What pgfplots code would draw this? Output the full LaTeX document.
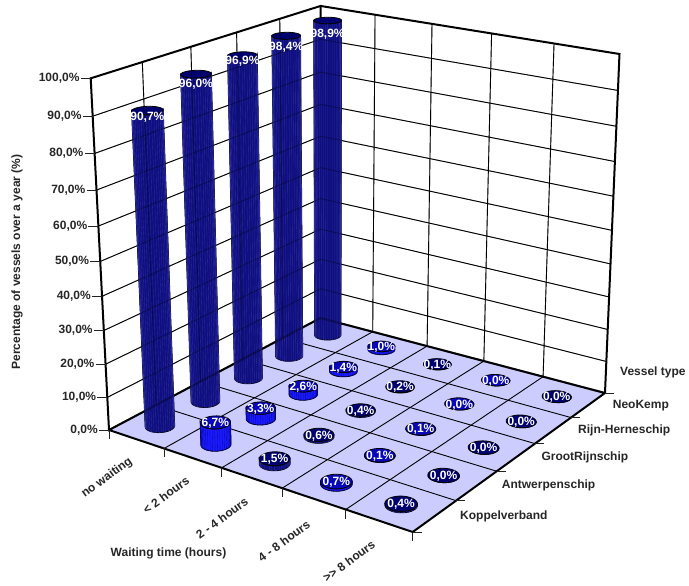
\documentclass[border=0pt]{standalone}
\usepackage{fontspec}
\setmainfont{Liberation Sans}
\usepackage{pgfplots}
\usepackage{pgfplotstable}
\pgfplotsset{compat=1.18}

% Perspective view of the box: u along waiting time, v along vessel type, w up (all 0..1)
\pgfmathdeclarefunction{prjd}{3}{\pgfmathparse{1-0.11565*#1+0.14566*#2-0.08*#3}}
\pgfmathdeclarefunction{prjx}{3}{\pgfmathparse{(109+255.97*#1+258.18*#2+#3*(-25.56-9.06*#1*#2))/prjd(#1,#2,#3)}}
\pgfmathdeclarefunction{prjy}{3}{\pgfmathparse{(430+40.47*#1-65.68*#2+#3*(-357.96+4.47*#1*#2))/prjd(#1,#2,#3)}}
\pgfmathdeclarefunction{cellc}{1}{\pgfmathparse{(#1+0.5)/5}}
% outline of a cylinder side: front arc at the bottom, then back along the top
\pgfmathdeclarefunction{sideang}{1}{\pgfmathparse{ifthenelse(#1<15.5,-139+12*#1,41-12*(#1-16))}}
\pgfmathdeclarefunction{sidew}{2}{\pgfmathparse{ifthenelse(#1<15.5,0,#2)}}
% facet lines on a cylinder side, as one zigzag
\pgfmathdeclarefunction{facang}{1}{\pgfmathparse{-139+9.47*floor((#1+0.01)/2)}}
\pgfmathdeclarefunction{facw}{2}{\pgfmathparse{ifthenelse(mod(round(#1),4)==1||mod(round(#1),4)==2,#2,0)}}

\definecolor{floorc}{HTML}{CCCCFF}
\definecolor{navyside}{HTML}{0E0E7E}
\definecolor{navycap}{HTML}{00006E}
\definecolor{navyfacet}{HTML}{2C2C9C}
\definecolor{blueside}{HTML}{1A1AFF}
\definecolor{bluecap}{HTML}{0808B8}
\definecolor{bluefacet}{HTML}{0808A0}
\definecolor{tickc}{HTML}{222222}

\newcommand\lab{\fontsize{12}{14}\selectfont\bfseries}

% share of vessels per waiting time i and vessel type j, drawn back to front;
% d is how far the value label sits below the top of its cylinder
\pgfplotstableread{
i j v d
0 4 98.9 14
1 4 1.0 1
2 4 0.1 1
3 4 0.0 1
4 4 0.0 1
0 3 98.4 12
1 3 1.4 1
2 3 0.2 1
3 3 0.0 1
4 3 0.0 1
0 2 96.9 6
1 2 2.6 1
2 2 0.4 1
3 2 0.1 1
4 2 0.0 1
0 1 96.0 10.5
1 1 3.3 1
2 1 0.6 1
3 1 0.1 1
4 1 0.0 1
0 0 90.7 6.5
1 0 6.7 1
2 0 1.5 1
3 0 0.7 1
4 0 0.4 1
}\bars

% i, j, value, side colour, cap colour, facet colour
\newcommand\cyl[6]{%
  \addplot[fill=#4,draw=black,line width=0.8pt,mark=none,domain=0:31,samples=32]
    ({prjx(cellc(#1)+0.041*cos(sideang(x)),cellc(#2)+0.041*sin(sideang(x)),sidew(x,#3/100))},
     {prjy(cellc(#1)+0.041*cos(sideang(x)),cellc(#2)+0.041*sin(sideang(x)),sidew(x,#3/100))}) -- cycle;
  \ifdim#3pt>0.3pt
  \addplot[draw=#6,line width=0.35pt,mark=none,domain=0:39,samples=40]
    ({prjx(cellc(#1)+0.041*cos(facang(x)),cellc(#2)+0.041*sin(facang(x)),facw(x,#3/100))},
     {prjy(cellc(#1)+0.041*cos(facang(x)),cellc(#2)+0.041*sin(facang(x)),facw(x,#3/100))});
  \fi
  \addplot[fill=#5,draw=black,line width=0.8pt,mark=none,domain=0:360,samples=33]
    ({prjx(cellc(#1)+0.041*cos(x),cellc(#2)+0.041*sin(x),#3/100)},
     {prjy(cellc(#1)+0.041*cos(x),cellc(#2)+0.041*sin(x),#3/100)}) -- cycle;
}

% gridlines on the two walls
\newcommand\wallgrid[1]{%
  \pgfplotsinvokeforeach{0.1,0.2,0.3,0.4,0.5,0.6,0.7,0.8,0.9}{%
    \addplot[#1,mark=none,domain=0:1,samples=2] ({prjx(0,x,##1)},{prjy(0,x,##1)});
    \addplot[#1,mark=none,domain=0:1,samples=2] ({prjx(x,1,##1)},{prjy(x,1,##1)});
  }%
  \pgfplotsinvokeforeach{0.2,0.4,0.6,0.8}{%
    \addplot[#1,mark=none,domain=0:1,samples=2] ({prjx(0,##1,x)},{prjy(0,##1,x)});
    \addplot[#1,mark=none,domain=0:1,samples=2] ({prjx(##1,1,x)},{prjy(##1,1,x)});
  }%
}

\begin{document}
\begin{tikzpicture}
\useasboundingbox (0,0) rectangle (689pt,586pt);
\begin{axis}[
  at={(0,0)},anchor=south west,
  scale only axis,width=689pt,height=586pt,
  xmin=0,xmax=689,ymin=0,ymax=586,y dir=reverse,
  enlargelimits=false,hide axis,clip=false,
  /pgf/number format/.cd,fixed,fixed zerofill,precision=1,use comma,assume math mode=true,
]
% floor
\addplot[fill=floorc,draw=none,mark=none]
  table[row sep=crcr,x expr={prjx(\thisrow{u},\thisrow{v},0)},y expr={prjy(\thisrow{u},\thisrow{v},0)}]
  {u v\\0 0\\1 0\\1 1\\0 1\\} -- cycle;
\pgfplotsinvokeforeach{0.2,0.4,0.6,0.8}{%
  \addplot[black,line width=0.9pt,mark=none,domain=0:1,samples=2] ({prjx(x,#1,0)},{prjy(x,#1,0)});
  \addplot[black,line width=0.9pt,mark=none,domain=0:1,samples=2] ({prjx(#1,x,0)},{prjy(#1,x,0)});
}
\wallgrid{black,line width=0.9pt}
% box edges
\addplot[black,line width=2pt,mark=none,line join=miter]
  table[row sep=crcr,x expr={prjx(\thisrow{u},\thisrow{v},\thisrow{w})},y expr={prjy(\thisrow{u},\thisrow{v},\thisrow{w})}]
  {u v w\\0 0 0\\1 0 0\\1 1 0\\1 1 1\\0 1 1\\0 0 1\\0 0 0\\0 1 0\\1 1 0\\};
\addplot[black,line width=2pt,mark=none]
  table[row sep=crcr,x expr={prjx(\thisrow{u},\thisrow{v},\thisrow{w})},y expr={prjy(\thisrow{u},\thisrow{v},\thisrow{w})}]
  {u v w\\0 1 1\\0 1 0\\};
% ticks
\pgfplotsinvokeforeach{0,0.2,0.4,0.6,0.8,1}{%
  \addplot[tickc,line width=0.8pt,mark=none,domain=0:1,samples=2] ({prjx(#1,0,0)},{prjy(#1,0,0)+9*x});
  \addplot[tickc,line width=0.8pt,mark=none,domain=0:1,samples=2] ({prjx(1,#1,0)+9*x},{prjy(1,#1,0)});
}
\pgfplotsinvokeforeach{0,0.1,0.2,0.3,0.4,0.5,0.6,0.7,0.8,0.9,1}{%
  \addplot[tickc,line width=0.8pt,mark=none,domain=0:1,samples=2] ({prjx(0,0,#1)-10*x},{prjy(0,0,#1)});
}
% cylinders, alternating colour by waiting time
\pgfplotsforeachungrouped \r in {0,...,24}{%
  \pgfplotstablegetelem{\r}{i}\of\bars\let\ci\pgfplotsretval
  \pgfplotstablegetelem{\r}{j}\of\bars\let\cj\pgfplotsretval
  \pgfplotstablegetelem{\r}{v}\of\bars\let\cv\pgfplotsretval
  \ifodd\ci\relax
    \edef\tmp{\noexpand\cyl{\ci}{\cj}{\cv}{blueside}{bluecap}{bluefacet}}%
  \else
    \edef\tmp{\noexpand\cyl{\ci}{\cj}{\cv}{navyside}{navycap}{navyfacet}}%
  \fi
  \tmp
}
% the wall lines show faintly through the cylinders
\wallgrid{black,line width=0.9pt,opacity=0.35}
\addplot[black,line width=2pt,mark=none,opacity=0.35]
  table[row sep=crcr,x expr={prjx(\thisrow{u},\thisrow{v},0)},y expr={prjy(\thisrow{u},\thisrow{v},0)}]
  {u v\\0 0\\0 1\\1 1\\};
% value labels
\addplot[draw=none,mark=none,point meta=\thisrow{v},
  nodes near coords={\pgfmathprintnumber{\pgfplotspointmeta}\%},
  every node near coord/.append style={anchor=center,text=white,inner sep=0pt,font=\lab}]
  table[x expr={prjx(cellc(\thisrow{i}),cellc(\thisrow{j}),\thisrow{v}/100)},
        y expr={prjy(cellc(\thisrow{i}),cellc(\thisrow{j}),\thisrow{v}/100)+\thisrow{d}}] {\bars};
% percentage labels on the vertical axis
\addplot[draw=none,mark=none,point meta=\thisrow{p},
  nodes near coords={\pgfmathprintnumber{\pgfplotspointmeta}\%},
  every node near coord/.append style={anchor=east,text=black!85,inner sep=0pt,font=\lab}]
  table[row sep=crcr,x expr={prjx(0,0,\thisrow{p}/100)-11},y expr={prjy(0,0,\thisrow{p}/100)}]
  {p\\0\\10\\20\\30\\40\\50\\60\\70\\80\\90\\100\\};
% axis titles and category names
\node[font=\lab,text=black!85,inner sep=0,rotate=90] at (axis cs:17,262) {Percentage of vessels over a year (\%)};
\node[font=\lab,text=black!85,inner sep=0] at (axis cs:168.5,553.5) {Waiting time (hours)};
\node[font=\lab,text=black!85,inner sep=0,anchor=west] at (axis cs:620,372) {Vessel type};
\node[font=\lab,text=black!85,inner sep=0,anchor=west] at (axis cs:612.7,405.7) {NeoKemp};
\node[font=\lab,text=black!85,inner sep=0,anchor=west] at (axis cs:578,430.7) {Rijn-Herneschip};
\node[font=\lab,text=black!85,inner sep=0,anchor=west] at (axis cs:541.3,457.7) {GrootRijnschip};
\node[font=\lab,text=black!85,inner sep=0,anchor=west] at (axis cs:501.7,485.7) {Antwerpenschip};
\node[font=\lab,text=black!85,inner sep=0,anchor=west] at (axis cs:460,516.7) {Koppelverband};
\node[font=\lab,text=black!85,inner sep=0,rotate=36] at (axis cs:107,478) {no waiting};
\node[font=\lab,text=black!85,inner sep=0,rotate=36] at (axis cs:166,495) {< 2 hours};
\node[font=\lab,text=black!85,inner sep=0,rotate=36] at (axis cs:222,518) {2 - 4 hours};
\node[font=\lab,text=black!85,inner sep=0,rotate=36] at (axis cs:284,541) {4 - 8 hours};
\node[font=\lab,text=black!85,inner sep=0,rotate=36] at (axis cs:349,561) {>{}> 8 hours};
\end{axis}
\end{tikzpicture}
\end{document}
